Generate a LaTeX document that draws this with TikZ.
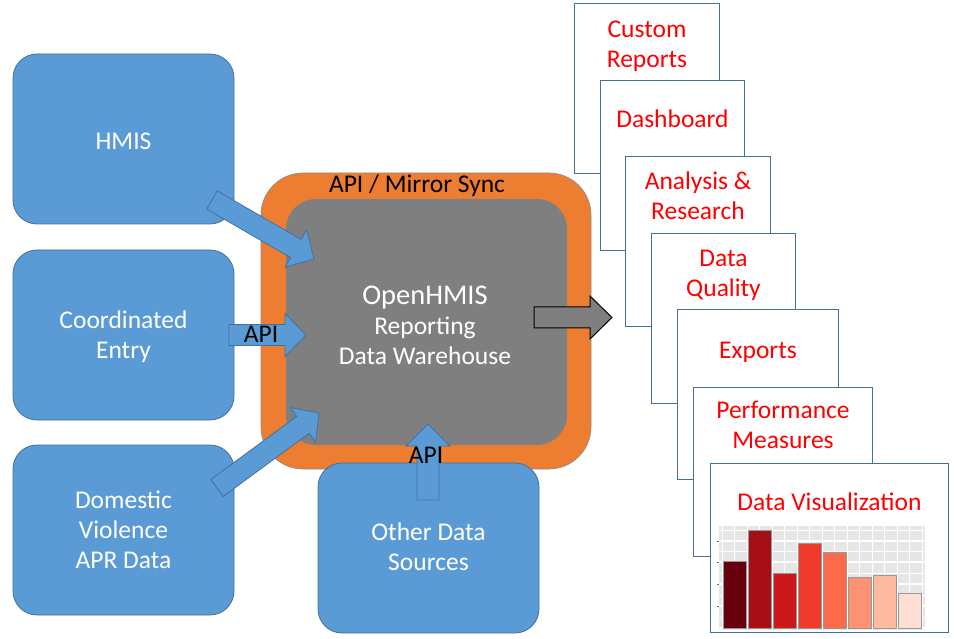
\documentclass[tikz,border=0pt]{standalone}
\usepackage{fontspec}
\setmainfont{Carlito}
\usetikzlibrary{calc}
\definecolor{boxblue}{HTML}{5B9BD5}
\definecolor{edgeblue}{HTML}{41719C}
\definecolor{hubOrange}{HTML}{ED7D31}
\definecolor{hubGray}{HTML}{7F7F7F}
\definecolor{repRed}{HTML}{FF0000}
\definecolor{chartBg}{HTML}{E6E6E6}
\definecolor{barA}{HTML}{67000D}
\definecolor{barB}{HTML}{A50F15}
\definecolor{barC}{HTML}{CB181D}
\definecolor{barD}{HTML}{EF3B2C}
\definecolor{barE}{HTML}{FB6A4A}
\definecolor{barF}{HTML}{FC9272}
\definecolor{barG}{HTML}{FCBBA1}
\definecolor{barH}{HTML}{FEE0D2}
\newcommand\blockarrow[6]{% style, tail, tip, shaft half width, head half width, head length
  \path ($(#3)!#6!(#2)$) coordinate (bah);
  \draw[#1] ($(#2)!#4!90:(#3)$) -- ($(bah)!#4!90:(#3)$) -- ($(bah)!#5!90:(#3)$) -- (#3)
    -- ($(bah)!#5!-90:(#3)$) -- ($(bah)!#4!-90:(#3)$) -- ($(#2)!#4!-90:(#3)$) -- cycle;}
\tikzset{
  basefont/.style={font=\fontsize{25.5}{30}\selectfont},
  srcbox/.style={fill=boxblue, draw=edgeblue, line width=0.8pt, rounded corners=24pt,
    inner sep=0pt, minimum width=221pt, minimum height=170pt},
  srctext/.style={basefont, text=white, align=center, inner sep=0pt},
  repbox/.style={fill=white, draw=edgeblue, line width=1pt, anchor=north west, inner sep=0pt},
  reptext/.style={basefont, text=repRed, align=center, inner sep=0pt},
  blockblue/.style={fill=boxblue, draw=edgeblue, line width=0.8pt, line join=miter},
  blockgray/.style={fill=hubGray, draw=black, line width=1pt, line join=miter},
  apilabel/.style={basefont, text=black, inner sep=0pt, anchor=base},
  bar/.style={draw=black!40, line width=0.8pt}
}
\begin{document}
\begin{tikzpicture}[x=1pt,y=-1pt]
\useasboundingbox (0,0) rectangle (954,639);

% hub
\node[fill=hubOrange, draw=black!45, line width=0.6pt, rounded corners=42pt, minimum width=330pt,
  minimum height=296pt, inner sep=0pt] (hubOuter) at (426,321) {};
\node[fill=hubGray, rounded corners=30pt, minimum width=281pt, minimum height=246pt, inner sep=0pt]
  (hub) at (426.5,322) {};
\node[apilabel] (sync) at (417,193) {API / Mirror Sync};
\node[text=white, align=center, inner sep=0pt, font=\fontsize{25.5}{29.5}\selectfont] (hubText) at (425,325)
  {{\fontsize{28.5}{30}\selectfont OpenHMIS}\\[1pt]Reporting\\Data Warehouse};

% sources
\node[srcbox] (hmis) at (123.5,139) {};
\node[srctext] (hmisT) at (123.5,141) {HMIS};
\node[srcbox] (ce) at (123.5,335) {};
\node[srctext] (ceT) at (123.5,337) {Coordinated\\Entry};
\node[srcbox] (dv) at (123.5,530) {};
\node[srctext] (dvT) at (123.5,530) {Domestic\\Violence\\APR Data};
\node[srcbox] (ods) at (428.5,548) {};
\node[srctext] (odsT) at (428.5,547) {Other Data\\Sources};

% arrow end points
\coordinate (hmisTail) at (212,200);
\coordinate (hmisTip) at (314,259);
\coordinate (ceTail) at (229,335);
\coordinate (ceTip) at (306,335);
\coordinate (dvTail) at (217,488);
\coordinate (dvTip) at (319,413);
\coordinate (odsTail) at (428,500);
\coordinate (odsTip) at (428,424);
\coordinate (outTail) at (534,317.5);
\coordinate (outTip) at (612,317.5);

\blockarrow{blockblue}{hmisTail}{hmisTip}{10.5pt}{21.5pt}{21pt}
\blockarrow{blockblue}{ceTail}{ceTip}{10.5pt}{21.5pt}{21pt}
\blockarrow{blockblue}{dvTail}{dvTip}{10.5pt}{21.5pt}{20pt}
\blockarrow{blockblue}{odsTail}{odsTip}{11pt}{22pt}{22pt}
\node[apilabel] (ceApi) at (261,343) {API};
\node[apilabel] (odsApi) at (426,463) {API};

% report stack
\node[repbox, minimum width=145pt, minimum height=170pt] (r1) at (574,3) {};
\node[reptext] (t1) at ($(r1.north)+(0,43)$) {Custom\\Reports};
\node[repbox, minimum width=144pt, minimum height=170pt] (r2) at (600,80) {};
\node[reptext] (t2) at ($(r2.north)+(0,39)$) {Dashboard};
\node[repbox, minimum width=145pt, minimum height=170pt] (r3) at (625,156) {};
\node[reptext] (t3) at ($(r3.north)+(0,40)$) {Analysis \&\\Research};
\node[repbox, minimum width=144pt, minimum height=170pt] (r4) at (651,233) {};
\node[reptext] (t4) at ($(r4.north)+(0,42)$) {Data\\Quality};
\node[repbox, minimum width=161pt, minimum height=170pt] (r5) at (677,309) {};
\node[reptext] (t5) at ($(r5.north)+(0,43)$) {Exports};
\node[repbox, minimum width=179pt, minimum height=169pt] (r6) at (693,387) {};
\node[reptext] (t6) at ($(r6.north)+(0,38)$) {Performance\\Measures};
\node[repbox, minimum width=238pt, minimum height=169pt] (r7) at (710,463) {};
\node[reptext] (t7) at ($(r7.north)+(0,39)$) {Data Visualization};

% output arrow
\blockarrow{blockgray}{outTail}{outTip}{10.5pt}{21.5pt}{22pt}

% chart
\fill[chartBg] (719,526) rectangle (925,630);
\foreach \y in {530.5,551.5,573,595,617} \draw[white, line width=0.5pt] (719,\y) -- (925,\y);
\foreach \y in {541,562,584,606,628} \draw[white, line width=1.1pt] (719,\y) -- (925,\y);
\foreach \x in {734.5,759.5,784.5,809.5,834.5,859.5,884.5,909.5} \draw[white, line width=1.1pt] (\x,526) -- (\x,630);
\foreach \x in {722,747,772,797,822,847,872,897,922} \draw[white, line width=0.5pt] (\x,526) -- (\x,630);
\foreach \y in {541,562,584,606} \draw[black!60, line width=0.6pt] (716.5,\y) -- (719,\y);
\draw[bar, fill=barA] (723,628) rectangle (746,561);
\draw[bar, fill=barB] (748,628) rectangle (771,530);
\draw[bar, fill=barC] (773,628) rectangle (796,573);
\draw[bar, fill=barD] (798,628) rectangle (821,543);
\draw[bar, fill=barE] (823,628) rectangle (846,552);
\draw[bar, fill=barF] (848,628) rectangle (871,577);
\draw[bar, fill=barG] (873,628) rectangle (896,575);
\draw[bar, fill=barH] (898,628) rectangle (921,593);
\end{tikzpicture}
\end{document}
